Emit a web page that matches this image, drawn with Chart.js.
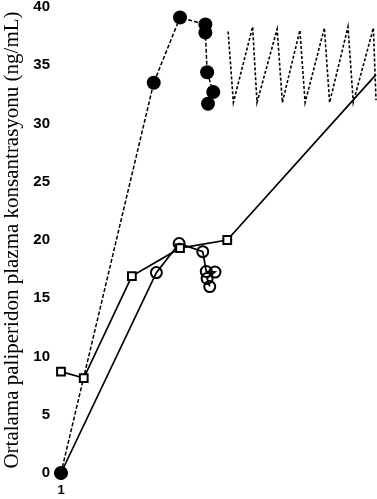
<!DOCTYPE html>
<html>
<head>
<meta charset="utf-8">
<script src="https://cdn.jsdelivr.net/npm/chart.js@4"></script>
<style>
html,body{margin:0;padding:0;background:#fff;}
#wrap{width:377px;height:499px;position:relative;}
</style>
</head>
<body>
<div id="wrap"><canvas id="c"></canvas></div>
<script>
// Y axis tick labels / range
const yTicks = [0, 5, 10, 15, 20, 25, 30, 35, 40];
const xTickLabels = [1];
const yTitle = 'Ortalama paliperidon plazma konsantrasyonu (ng/mL)';

// Filled circles (dashed line)
const filledX = [1, 11.6, 14.6, 17.5, 17.5, 17.7, 18.4, 17.8];
const filledY = [0, 33.5, 39.1, 38.5, 37.8, 34.4, 32.7, 31.7];

// Steady-state oscillation (dashed, no markers)
const oscX = [20.1, 20.7, 22.9, 23.4, 25.7, 26.3, 28.3, 28.9, 31.1, 31.7, 33.8, 34.4, 36.7, 37.0];
const oscY = [37.9, 31.8, 38.3, 31.8, 38.1, 31.8, 38.0, 31.8, 38.2, 31.8, 38.3, 31.8, 38.2, 32.0];

// Open circles (solid line)
const openX = [1, 11.9, 14.5, 17.2, 17.6, 18.6, 17.7, 18.0];
const openY = [0, 17.2, 19.7, 19.0, 17.3, 17.25, 16.7, 16.0];

// Open squares (solid line)
const sqX = [1, 3.6, 9.1, 14.6, 20.0, 37.0];
const sqY = [8.7, 8.15, 16.9, 19.3, 20.0, 34.2];
const sqMarker = [true, true, true, true, true, false];

const pts = (xs, ys) => xs.map((x, i) => ({x: x, y: ys[i]}));

new Chart(document.getElementById('c'), {
  type: 'scatter',
  data: {
    datasets: [
      {
        data: pts(oscX, oscY), showLine: true, pointRadius: 0,
        borderColor: '#000', borderWidth: 1.6, borderDash: [3, 2], clip: false
      },
      {
        data: pts(sqX, sqY), showLine: true,
        pointStyle: 'rect', pointRadius: sqMarker.map(m => m ? 5.5 : 0),
        pointBackgroundColor: '#fff', pointBorderColor: '#000', pointBorderWidth: 2,
        borderColor: '#000', borderWidth: 1.7, clip: false
      },
      {
        data: pts(openX, openY), showLine: true,
        pointStyle: 'circle', pointRadius: 5.5,
        pointBackgroundColor: 'rgba(255,255,255,0)', pointBorderColor: '#000', pointBorderWidth: 2,
        borderColor: '#000', borderWidth: 1.7, clip: false
      },
      {
        data: pts(filledX, filledY), showLine: true,
        pointStyle: 'circle', pointRadius: 7,
        pointBackgroundColor: '#000', pointBorderColor: '#000', pointBorderWidth: 0,
        borderColor: '#000', borderWidth: 1.5, borderDash: [4, 2], clip: false
      }
    ]
  },
  options: {
    responsive: true,
    maintainAspectRatio: false,
    animation: false,
    layout: {autoPadding: false, padding: {top: 7, right: 1, left: 0, bottom: 0}},
    plugins: {legend: {display: false}, tooltip: {enabled: false}},
    elements: {line: {tension: 0}},
    scales: {
      x: {
        type: 'linear', min: 1, max: 37,
        grid: {display: false, drawTicks: false},
        border: {display: false},
        afterBuildTicks: s => { s.ticks = xTickLabels.map(v => ({value: v})); },
        afterFit: s => { s.height = 26; s.paddingLeft = 0; s.paddingRight = 0; },
        ticks: {
          color: '#000', padding: 10,
          font: {family: 'Liberation Sans', size: 13, weight: 'bold'}
        }
      },
      y: {
        min: 0, max: 40,
        grid: {display: false, drawTicks: false},
        border: {display: false},
        afterBuildTicks: s => { s.ticks = yTicks.map(v => ({value: v})); },
        afterFit: s => { s.width = 61; s.paddingTop = 0; s.paddingBottom = 0; },
        ticks: {
          color: '#000', padding: 11,
          font: {family: 'Liberation Sans', size: 15, weight: 'bold'}
        },
        title: {
          display: true, text: yTitle, color: '#000',
          font: {family: 'Liberation Serif', size: 21},
          padding: {top: 0, bottom: 0}
        }
      }
    }
  }
});
</script>
</body>
</html>
